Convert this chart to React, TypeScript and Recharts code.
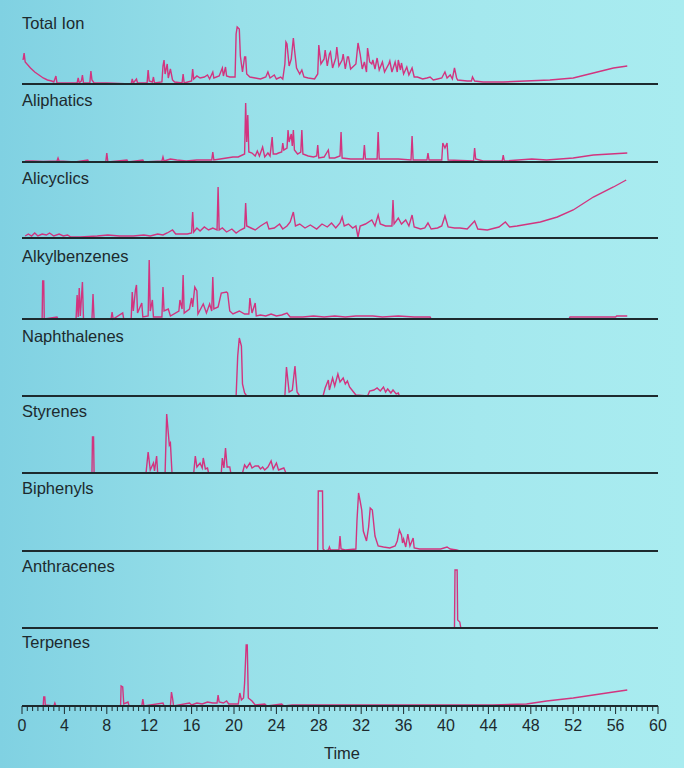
import { LineChart, Line, XAxis, YAxis, ReferenceLine } from 'recharts';

// [time (min), intensity]
const totalIon: [number, number][] = [
  [0.1, 24], [0.2, 31], [0.3, 22], [0.8, 16], [1.2, 12], [1.6, 9], [2.0, 6], [2.4, 4], [2.8, 3], [3.0, 2],
  [3.2, 8], [3.3, 1], [3.8, 1], [5.2, 1], [5.3, 6], [5.4, 1], [5.6, 3], [5.7, 9], [5.8, 1], [6.4, 1],
  [6.5, 13], [6.6, 4], [6.8, 1], [8.0, 1], [10.3, 0], [10.4, 5], [10.5, 1], [10.8, 5], [10.9, 1], [11.8, 1],
  [11.9, 14], [12.0, 3], [12.3, 2], [12.4, 7], [12.5, 1], [13.2, 2], [13.3, 18], [13.4, 24], [13.5, 10], [13.7, 20],
  [13.8, 6], [14.0, 15], [14.2, 4], [14.4, 2], [15.1, 1], [15.2, 10], [15.3, 1], [16.0, 3], [16.1, 15], [16.2, 5],
  [16.5, 8], [16.8, 6], [17.2, 7], [17.5, 9], [17.7, 5], [18.0, 12], [18.1, 6], [18.6, 8], [18.9, 16], [19.0, 8],
  [19.2, 17], [19.3, 8], [19.6, 7], [20.1, 7], [20.2, 50], [20.3, 57], [20.5, 55], [20.6, 28], [20.8, 12], [21.0, 27],
  [21.1, 27], [21.2, 10], [21.5, 7], [22.0, 6], [22.5, 5], [23.0, 7], [23.2, 12], [23.4, 6], [23.8, 9], [24.0, 5],
  [24.4, 7], [24.6, 5], [24.8, 20], [24.9, 42], [25.0, 40], [25.2, 18], [25.4, 25], [25.6, 46], [25.7, 35], [25.9, 16],
  [26.2, 10], [26.4, 14], [26.6, 7], [27.0, 6], [27.6, 5], [27.9, 10], [28.0, 39], [28.2, 20], [28.5, 25], [28.6, 34],
  [28.8, 18], [29.0, 30], [29.1, 32], [29.3, 16], [29.6, 26], [29.7, 37], [29.9, 18], [30.2, 24], [30.3, 30], [30.5, 15],
  [30.7, 27], [30.8, 27], [31.0, 15], [31.5, 20], [31.7, 41], [31.9, 30], [32.1, 15], [32.3, 22], [32.5, 12], [32.6, 36],
  [32.8, 22], [33.0, 20], [33.1, 24], [33.3, 15], [33.5, 26], [33.7, 14], [34.0, 22], [34.2, 12], [34.6, 20], [34.7, 23],
  [34.9, 12], [35.2, 22], [35.4, 12], [35.5, 24], [35.7, 14], [35.8, 21], [36.0, 10], [36.3, 17], [36.5, 9], [36.8, 16],
  [37.0, 7], [37.3, 7], [37.8, 5], [38.2, 6], [38.5, 7], [38.8, 4], [39.2, 5], [39.6, 6], [39.9, 12], [40.1, 6],
  [40.4, 9], [40.6, 5], [40.8, 16], [41.0, 6], [41.1, 4], [42.0, 3], [42.4, 3], [42.5, 7], [42.7, 3], [43.5, 2],
  [45.4, 2], [47.5, 3], [49.8, 4], [52.0, 6], [53.9, 11], [55.8, 16], [57.1, 18],
];

const aliphatics: [number, number][] = [
  [0.3, 1], [1.0, 1], [2.0, 0.5], [3.3, 1], [3.4, 4], [3.5, 1], [5.0, 0], [6.2, 2], [6.3, 0], [7.9, 0],
  [8.0, 9], [8.1, 0], [9.9, 2], [10.0, 0], [11.4, 2], [11.5, 0], [13.2, 1], [13.3, 5], [13.4, 1], [14.0, 3],
  [14.6, 2], [15.5, 1], [16.5, 2], [17.9, 2], [18.0, 10], [18.1, 2], [18.7, 3], [19.3, 4], [19.9, 5], [20.4, 5],
  [21.0, 8], [21.1, 59], [21.2, 20], [21.3, 47], [21.4, 10], [21.7, 9], [22.0, 6], [22.2, 11], [22.4, 6], [22.7, 15],
  [22.9, 5], [23.2, 9], [23.4, 6], [23.6, 25], [23.7, 8], [24.0, 8], [24.2, 9], [24.5, 10], [24.6, 19], [24.7, 12],
  [25.0, 14], [25.1, 32], [25.2, 20], [25.4, 28], [25.5, 16], [25.6, 32], [25.7, 12], [26.0, 8], [26.3, 10], [26.4, 32],
  [26.5, 8], [27.0, 6], [27.5, 5], [27.8, 6], [27.9, 17], [28.0, 4], [28.5, 5], [28.9, 12], [29.0, 4], [29.5, 4],
  [30.0, 6], [30.1, 30], [30.2, 4], [31.0, 3], [32.2, 3], [32.3, 17], [32.4, 3], [33.5, 3], [33.6, 30], [33.7, 3],
  [35.5, 3], [36.7, 2], [36.8, 26], [36.9, 2], [38.2, 2], [38.3, 9], [38.4, 2], [39.6, 2], [39.7, 19], [39.9, 14],
  [40.1, 19], [40.2, 2], [42.6, 1], [42.7, 14], [42.8, 3], [43.5, 1], [45.3, 1], [45.4, 7], [45.5, 1], [48.1, 3],
  [49.5, 2], [52.0, 4], [53.9, 7], [57.1, 9],
];

const alicyclics: [number, number][] = [
  [0.3, 2], [0.6, 4], [0.9, 2], [1.2, 5], [1.5, 2], [1.9, 4], [2.3, 3], [2.6, 5], [3.0, 2], [3.5, 4],
  [3.9, 2], [4.3, 3], [4.6, 1], [5.5, 1], [7.1, 2], [8.1, 3], [9.2, 2], [10.5, 2], [11.5, 3], [12.1, 2],
  [12.8, 4], [13.3, 3], [13.7, 5], [14.2, 8], [14.5, 4], [15.0, 4], [15.6, 4], [16.0, 5], [16.1, 26], [16.2, 6],
  [16.5, 10], [16.8, 7], [17.2, 11], [17.6, 8], [18.0, 10], [18.4, 8], [18.5, 51], [18.6, 8], [18.9, 10], [19.3, 6],
  [19.8, 9], [20.2, 5], [20.6, 8], [21.0, 10], [21.1, 35], [21.2, 12], [21.6, 10], [22.0, 8], [22.5, 12], [23.1, 16],
  [23.3, 9], [23.8, 10], [24.3, 14], [24.6, 9], [25.0, 12], [25.3, 16], [25.6, 26], [25.8, 12], [26.2, 14], [26.7, 10],
  [27.2, 13], [27.8, 9], [28.3, 14], [28.8, 11], [29.2, 15], [29.6, 10], [30.0, 15], [30.2, 21], [30.4, 12], [30.8, 14],
  [31.2, 10], [31.5, 12], [31.7, 1], [31.9, 12], [32.4, 14], [33.0, 18], [33.3, 12], [33.6, 23], [33.8, 14], [34.3, 12],
  [34.9, 12], [35.0, 38], [35.1, 14], [35.5, 20], [35.8, 14], [36.2, 18], [36.5, 12], [36.8, 23], [37.0, 11], [37.6, 9],
  [38.0, 10], [38.3, 15], [38.6, 9], [39.2, 10], [39.6, 12], [39.9, 22], [40.2, 11], [40.8, 10], [41.3, 10], [42.0, 9],
  [42.7, 17], [43.0, 9], [43.9, 8], [45.0, 11], [45.6, 16], [46.0, 11], [46.7, 12], [48.9, 16], [50.5, 21], [52.0, 28],
  [53.9, 41], [55.8, 51], [57.0, 58],
];

const alkylbenzenes: [number, number][] = [
  [0, 0], [1.9, 0], [1.95, 38], [2.05, 38], [2.1, 0], [3.3, 2], [3.4, 0], [5.1, 0], [5.2, 24], [5.3, 2],
  [5.4, 31], [5.5, 3], [5.7, 37], [5.8, 0], [6.6, 0], [6.7, 25], [6.8, 0], [8.4, 0], [8.5, 7], [8.6, 0],
  [9.5, 6], [9.6, 0], [10.3, 0], [10.4, 27], [10.5, 8], [10.7, 29], [10.8, 34], [10.9, 6], [11.3, 16], [11.4, 2],
  [11.9, 3], [12.0, 59], [12.1, 8], [12.3, 19], [12.4, 2], [13.2, 2], [13.3, 32], [13.4, 8], [13.8, 10], [14.0, 3],
  [14.8, 8], [14.9, 19], [15.1, 10], [15.2, 44], [15.3, 6], [15.8, 10], [16.0, 21], [16.1, 12], [16.3, 32], [16.5, 28],
  [16.6, 5], [17.1, 15], [17.4, 6], [17.7, 15], [17.9, 8], [18.0, 42], [18.1, 10], [18.5, 12], [18.8, 26], [19.3, 27],
  [19.4, 26], [19.6, 8], [19.9, 5], [20.5, 8], [21.0, 5], [21.4, 5], [21.5, 21], [21.7, 6], [22.0, 16], [22.1, 3],
  [22.5, 4], [23.0, 3], [23.5, 5], [24.0, 3], [24.5, 4], [25.0, 6], [25.3, 2], [26.5, 2], [27.5, 3], [28.5, 2],
  [29.5, 3], [30.5, 2], [31.5, 3], [33.1, 3], [34.0, 2], [35.5, 3], [37.0, 2], [38.5, 2], [38.6, 0], [51.6, 0],
  [51.7, 2], [56.0, 2], [56.1, 3], [57.1, 3],
];

const naphthalenes: [number, number][] = [
  [0, 0], [20.2, 0], [20.35, 40], [20.5, 58], [20.7, 50], [20.8, 12], [21.0, 3], [21.2, 0], [24.8, 0], [24.95, 29],
  [25.2, 4], [25.5, 6], [25.75, 30], [25.95, 4], [26.2, 0], [28.4, 0], [28.6, 8], [28.9, 16], [29.0, 6], [29.3, 18],
  [29.5, 10], [29.8, 22], [30.0, 14], [30.3, 18], [30.5, 12], [30.7, 15], [30.9, 9], [31.2, 5], [31.5, 1], [32.6, 0],
  [32.8, 5], [33.2, 6], [33.5, 8], [33.8, 5], [34.1, 9], [34.3, 4], [34.5, 7], [34.8, 3], [35.0, 6], [35.3, 2],
  [35.5, 3], [35.6, 0],
];

const styrenes: [number, number][] = [
  [0, 0], [6.6, 0], [6.65, 36], [6.75, 36], [6.8, 0], [11.7, 0], [11.9, 21], [12.1, 3], [12.4, 10], [12.5, 2],
  [12.7, 17], [12.8, 0], [13.5, 0], [13.65, 59], [13.8, 40], [13.9, 28], [14.0, 30], [14.15, 0], [16.2, 0], [16.35, 17],
  [16.5, 6], [16.8, 10], [17.0, 5], [17.1, 15], [17.3, 4], [17.5, 5], [17.6, 0], [18.8, 0], [18.9, 15], [19.05, 5],
  [19.2, 25], [19.35, 6], [19.6, 6], [19.7, 0], [20.8, 0], [21.0, 8], [21.2, 5], [21.5, 10], [21.7, 5], [22.0, 7],
  [22.3, 7], [22.5, 4], [22.7, 6], [22.9, 3], [23.2, 6], [23.5, 12], [23.7, 4], [24.0, 10], [24.2, 3], [24.7, 5],
  [24.9, 0],
];

const biphenyls: [number, number][] = [
  [0, 0], [27.9, 0], [27.95, 60], [28.35, 60], [28.4, 2], [28.6, 0], [28.9, 1], [29.0, 4], [29.1, 1], [29.9, 1],
  [30.0, 15], [30.1, 2], [30.5, 1], [31.5, 2], [31.6, 30], [31.75, 58], [31.9, 50], [32.05, 41], [32.2, 20], [32.5, 10],
  [32.7, 24], [32.85, 43], [33.05, 41], [33.3, 15], [33.6, 5], [34.1, 4], [34.7, 3], [35.2, 5], [35.4, 10], [35.6, 21],
  [35.8, 16], [35.9, 8], [36.0, 12], [36.2, 4], [36.4, 17], [36.6, 5], [36.9, 13], [37.0, 3], [37.5, 2], [38.5, 2],
  [39.5, 2], [40.1, 4], [40.4, 2], [41.0, 1], [41.3, 0],
];

const anthracenes: [number, number][] = [
  [0, 0], [40.8, 0], [40.85, 58], [41.05, 58], [41.1, 8], [41.3, 6], [41.4, 0],
];

const terpenes: [number, number][] = [
  [0, 0], [2.0, 0], [2.05, 9], [2.15, 9], [2.2, 1], [3.0, 0], [3.1, 3], [3.2, 0], [9.3, 0], [9.35, 20],
  [9.5, 19], [9.6, 2], [10.0, 4], [10.1, 0], [11.3, 0], [11.4, 7], [11.5, 0], [13.3, 3], [13.4, 0], [14.0, 0],
  [14.1, 14], [14.2, 8], [14.3, 0], [15.8, 3], [16.0, 1], [16.5, 3], [17.0, 2], [17.5, 4], [18.0, 3], [18.4, 3],
  [18.5, 11], [18.6, 4], [19.0, 3], [19.3, 5], [19.5, 2], [20.4, 2], [20.55, 13], [20.7, 6], [20.9, 8], [21.0, 23],
  [21.15, 61], [21.25, 61], [21.35, 8], [21.7, 5], [22.0, 1], [22.9, 2], [23.1, 0], [24.5, 2], [24.7, 0], [25.5, 1],
  [32.2, 1], [41.0, 1], [44.4, 1], [47.6, 2], [49.5, 5], [52.0, 8], [53.9, 11], [55.8, 14], [57.1, 16],
];

const seriesNames = ['Total Ion', 'Aliphatics', 'Alicyclics', 'Alkylbenzenes', 'Naphthalenes', 'Styrenes', 'Biphenyls', 'Anthracenes', 'Terpenes'];
const seriesData = [totalIon, aliphatics, alicyclics, alkylbenzenes, naphthalenes, styrenes, biphenyls, anthracenes, terpenes];
const timeLabels = [0, 4, 8, 12, 16, 20, 24, 28, 32, 36, 40, 44, 48, 52, 56, 60];

// layout (px)
const baselines = [84, 162, 238, 319, 396, 473, 551, 628, 706];
const labelBaselines = [29, 106, 184, 262, 342, 417, 494, 572, 648];
const PANEL_H = 66;
const W = 687;
const FONT = '"Liberation Sans", Arial, Helvetica, sans-serif';
const INK = '#1d2a2e';
const TRACE = '#d2347f';

const minorTicks = Array.from({ length: 121 }, (_, i) => i / 2);

const AxisTick = (props: any) => {
  const { x, y, payload } = props;
  const v = payload.value as number;
  const major = timeLabels.includes(v);
  return (
    <g>
      <line x1={x} x2={x} y1={y} y2={y + (major ? 8 : 5)} stroke={INK} strokeWidth={1} />
      {major && (
        <text x={x} y={y + 25} textAnchor="middle" fontSize={16} fontFamily={FONT} fill={INK}>
          {v}
        </text>
      )}
    </g>
  );
};

const Panel = ({ data, top, withAxis }: { data: [number, number][]; top: number; withAxis: boolean }) => {
  const rows = data.map(([t, v]) => ({ t, v }));
  const bottom = withAxis ? 0 : 3;
  return (
    <div style={{ position: 'absolute', left: 0, top }}>
      <LineChart width={W} height={PANEL_H + (withAxis ? 40 : bottom)} data={rows} margin={{ top: 0, right: 29, bottom, left: 22 }}>
        <XAxis
          type="number"
          dataKey="t"
          domain={[0, 60]}
          hide={!withAxis}
          height={40}
          ticks={minorTicks}
          interval={0}
          tickSize={0}
          tickMargin={0}
          tickLine={false}
          axisLine={{ stroke: INK, strokeWidth: 2 }}
          tick={<AxisTick />}
        />
        <YAxis type="number" domain={[0, PANEL_H]} hide />
        <Line dataKey="v" type="linear" stroke={TRACE} strokeWidth={1.4} dot={false} isAnimationActive={false} />
        {!withAxis && <ReferenceLine y={0} stroke={INK} strokeWidth={2} />}
      </LineChart>
    </div>
  );
};

export default function App() {
  return (
    <div
      style={{
        position: 'absolute',
        left: 0,
        top: 0,
        width: 684,
        height: 768,
        background: 'linear-gradient(90deg, #80d1e2 0%, #98e0e9 35%, #a4e8ee 70%, #a9ecf0 100%)',
        fontFamily: FONT,
        overflow: 'hidden',
      }}
    >
      {seriesData.map((d, i) => (
        <Panel key={seriesNames[i]} data={d} top={baselines[i] - PANEL_H} withAxis={i === seriesData.length - 1} />
      ))}
      {seriesNames.map((name, i) => (
        <div
          key={name}
          style={{ position: 'absolute', left: 22, top: labelBaselines[i] - 14, fontSize: 16.5, lineHeight: '16px', color: INK }}
        >
          {name}
        </div>
      ))}
      <div style={{ position: 'absolute', left: 292, width: 100, top: 759 - 14, textAlign: 'center', fontSize: 16.5, lineHeight: '16px', color: INK }}>
        Time
      </div>
    </div>
  );
}
